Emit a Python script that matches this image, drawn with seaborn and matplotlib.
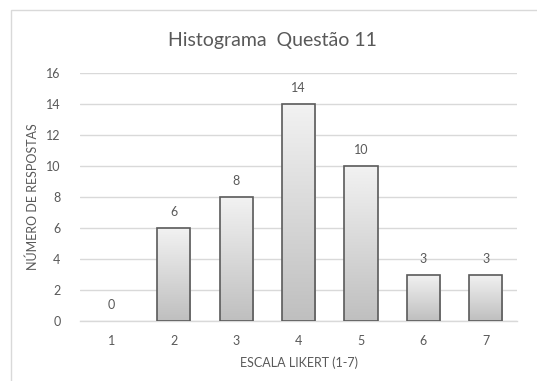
import numpy as np
import pandas as pd
import matplotlib
matplotlib.use("Agg")
import matplotlib.pyplot as plt
from matplotlib.patches import Rectangle
import seaborn as sns

# Likert scale responses for question 11
scale = ["1", "2", "3", "4", "5", "6", "7"]
counts = [0, 6, 8, 14, 10, 3, 3]
yticks = [0, 2, 4, 6, 8, 10, 12, 14, 16]

title = "Histograma  Questão 11"
xlabel = "ESCALA LIKERT (1-7)"
ylabel = "NÚMERO DE RESPOSTAS"

df = pd.DataFrame({"escala": scale, "respostas": counts})

sns.set_theme(style="white")
plt.rcParams["font.family"] = ["Lato", "DejaVu Sans"]

text_col = "#595959"
grid_col = "#d9d9d9"

fig = plt.figure(figsize=(5.37, 3.81), dpi=100)
ax = fig.add_axes([0.149, 0.1575, 0.814, 0.6505])

sns.barplot(data=df, x="escala", y="respostas", ax=ax, color="#dddddd",
            width=0.53, edgecolor="#5a5a5a", linewidth=1.2, zorder=3)

ax.set_ylim(0, 16)
ax.set_xlim(-0.5, len(scale) - 0.5)
ax.set_yticks(yticks)
ax.yaxis.grid(True, color=grid_col, linewidth=1.0, zorder=0)
ax.set_axisbelow(True)
for side in ["top", "right", "left"]:
    ax.spines[side].set_visible(False)
ax.spines["bottom"].set_color(grid_col)
ax.spines["bottom"].set_linewidth(1.0)
ax.tick_params(axis="both", length=0, colors=text_col, labelsize=9, pad=10)
ax.tick_params(axis="y", pad=14)

ax.set_xlabel(xlabel, color=text_col, fontsize=9, labelpad=7)
ax.set_ylabel(ylabel, color=text_col, fontsize=9, labelpad=5)
fig.text(0.507, 0.895, title, ha="center", va="center", color=text_col, fontsize=14)

# vertical gradient fill, light at the top and darker at the bottom
grad = np.linspace(0, 1, 256).reshape(-1, 1)
cmap = matplotlib.colors.LinearSegmentedColormap.from_list(
    "barfill", ["#bfbfbf", "#f2f2f2"])
for patch in ax.patches:
    x0, y0 = patch.get_x(), patch.get_y()
    w, h = patch.get_width(), patch.get_height()
    if h <= 0:
        patch.set_visible(False)
        continue
    im = ax.imshow(grad, extent=[x0, x0 + w, y0, y0 + h], origin="lower",
                   aspect="auto", cmap=cmap, zorder=3.5)
    im.set_clip_path(patch)
    patch.set_facecolor("none")
    patch.set_zorder(4)

ax.set_xlim(-0.5, len(scale) - 0.5)
ax.set_ylim(0, 16)

for i, v in enumerate(counts):
    ax.annotate(str(v), (i, v), xytext=(0, 7), textcoords="offset points",
                ha="center", va="bottom", color=text_col, fontsize=9)

# outer chart frame
fig.patches.append(Rectangle((10.5 / 537, -0.1), 1.2, (381 - 10.5) / 381 + 0.1,
                             transform=fig.transFigure, fill=False,
                             edgecolor="#d9d9d9", linewidth=1.0))

fig.savefig("out.png", dpi=100)
